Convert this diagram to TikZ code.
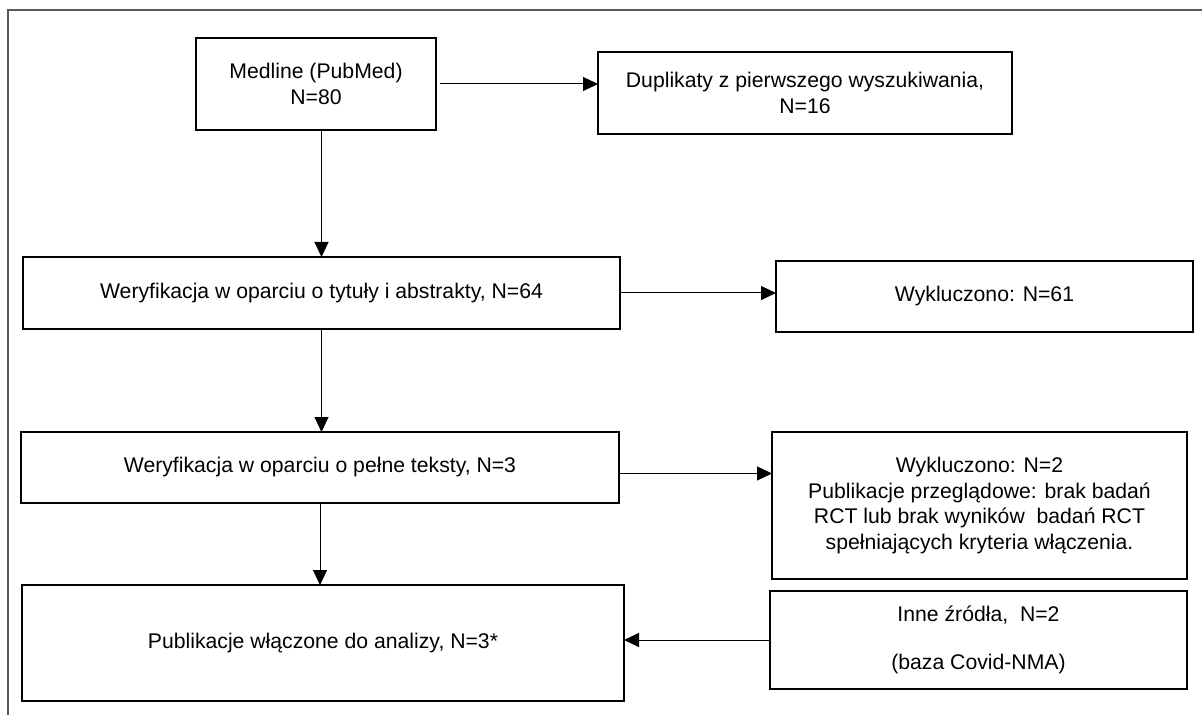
\documentclass[tikz,border=0pt]{standalone}
\usepackage{fontspec}
\setmainfont{Liberation Sans}
\usepackage{tikz}
\usetikzlibrary{positioning,calc,arrows.meta}

\begin{document}
\begin{tikzpicture}[x=0.5pt,y=-0.5pt,
    box/.style={draw, line width=0.9pt, inner sep=0pt, outer sep=0pt, align=center,
        font=\fontsize{10.6}{12.8}\selectfont},
    arr/.style={-{Triangle[length=7.5pt,width=7pt]}, line width=0.5pt}]
    \useasboundingbox (0,0) rectangle (1202,715);
    % Frame
    \draw [line width=0.8pt, black!65] (1202,10) -- (8,10) -- (8,715);

    % Search
    \node [box, minimum width=120pt, minimum height=46pt] (medline) at (316,84) {Medline (PubMed)\\N=80};
    \node [box, minimum width=207pt, minimum height=41pt] (dupl) at (805,93) {Duplikaty z pierwszego wyszukiwania,\\N=16};
    \draw [arr] ([xshift=2pt]medline.east) -- (medline.east -| dupl.west);

    % Titles and abstracts
    \node [box, minimum width=298.5pt, minimum height=36pt] (wer1) at (321.5,293) {Weryfikacja w oparciu o tytuły i abstrakty, N=64};
    \node [box, minimum width=208.5pt, minimum height=35.5pt] (wyk1) at (984.5,296.5) {Wykluczono: N=61};
    \draw [arr] (wer1.north |- medline.south) -- (wer1.north);
    \draw [arr] (wer1.east) -- (wer1.east -| wyk1.west);

    % Full texts
    \node [box, minimum width=299pt, minimum height=35.5pt] (wer2) at (320,467.5) {Weryfikacja w oparciu o pełne teksty, N=3};
    \node [box, minimum width=207.5pt, minimum height=73.5pt] (wyk2) at (979.5,505.5) {Wykluczono: N=2\\Publikacje przeglądowe: brak badań\\RCT lub brak wyników~ badań RCT\\spełniających kryteria włączenia.};
    \draw [arr] (wer1.south) -- (wer1.south |- wer2.north);
    \draw [arr] ([yshift=-3pt]wer2.east) -- ([yshift=-3pt]wer2.east -| wyk2.west);

    % Included
    \node [box, minimum width=301pt, minimum height=58pt] (publ) at (323,643) {Publikacje włączone do analizy, N=3*};
    \node [box, minimum width=208.5pt, minimum height=49pt] (inne) at (978.5,640) {Inne źródła,~ N=2\\[11pt](baza Covid-NMA)};
    \draw [arr] (wer2.south) -- (wer2.south |- publ.north);
    \draw [arr] (inne.west) -- (inne.west -| publ.east);
\end{tikzpicture}
\end{document}
